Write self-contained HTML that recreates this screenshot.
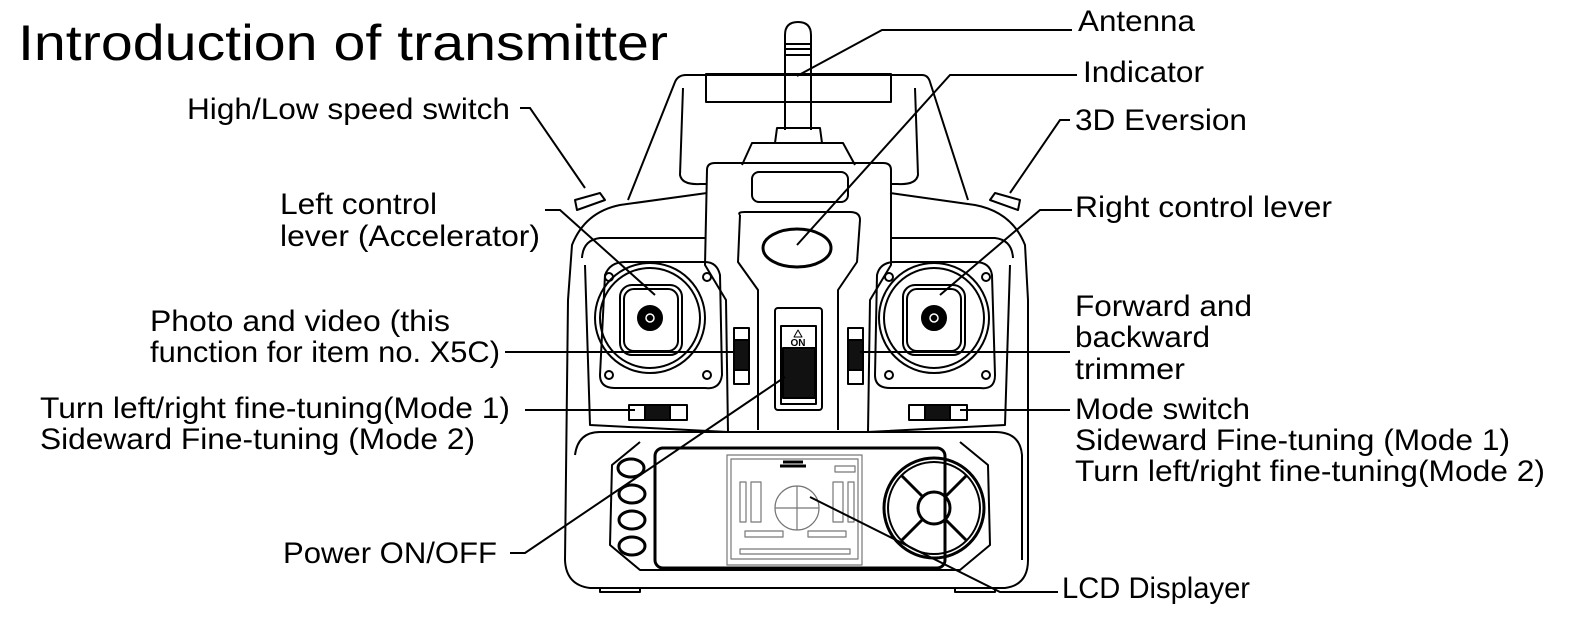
<!DOCTYPE html>
<html><head><meta charset="utf-8"><style>
html,body{margin:0;padding:0;background:#fff;}
svg{display:block;}
text{font-family:"Liberation Sans",Arial,sans-serif;fill:#000;}
</style></head><body>
<svg width="1574" height="625" viewBox="0 0 1574 625" xmlns="http://www.w3.org/2000/svg">
<g font-size="30">
<text x="18" y="60" font-size="50" textLength="650" lengthAdjust="spacingAndGlyphs">Introduction of transmitter</text>
<text x="187" y="119" textLength="323" lengthAdjust="spacingAndGlyphs">High/Low speed switch</text>
<text x="280" y="214" textLength="157" lengthAdjust="spacingAndGlyphs">Left control</text>
<text x="280" y="246" textLength="260" lengthAdjust="spacingAndGlyphs">lever (Accelerator)</text>
<text x="150" y="331" textLength="300" lengthAdjust="spacingAndGlyphs">Photo and video (this</text>
<text x="150" y="362" textLength="350" lengthAdjust="spacingAndGlyphs">function for item no. X5C)</text>
<text x="40" y="418" textLength="470" lengthAdjust="spacingAndGlyphs">Turn left/right fine-tuning(Mode 1)</text>
<text x="40" y="449" textLength="435" lengthAdjust="spacingAndGlyphs">Sideward Fine-tuning (Mode 2)</text>
<text x="283" y="563" textLength="214" lengthAdjust="spacingAndGlyphs">Power ON/OFF</text>
<text x="1078" y="31" textLength="117" lengthAdjust="spacingAndGlyphs">Antenna</text>
<text x="1083" y="82" textLength="121" lengthAdjust="spacingAndGlyphs">Indicator</text>
<text x="1075" y="130" textLength="172" lengthAdjust="spacingAndGlyphs">3D Eversion</text>
<text x="1075" y="217" textLength="257" lengthAdjust="spacingAndGlyphs">Right control lever</text>
<text x="1075" y="316" textLength="177" lengthAdjust="spacingAndGlyphs">Forward and</text>
<text x="1075" y="347" textLength="135" lengthAdjust="spacingAndGlyphs">backward</text>
<text x="1075" y="379" textLength="110" lengthAdjust="spacingAndGlyphs">trimmer</text>
<text x="1075" y="419" textLength="175" lengthAdjust="spacingAndGlyphs">Mode switch</text>
<text x="1075" y="450" textLength="435" lengthAdjust="spacingAndGlyphs">Sideward Fine-tuning (Mode 1)</text>
<text x="1075" y="481" textLength="470" lengthAdjust="spacingAndGlyphs">Turn left/right fine-tuning(Mode 2)</text>
<text x="1062" y="598" textLength="188" lengthAdjust="spacingAndGlyphs">LCD Displayer</text>
</g>

<g fill="none" stroke="#000" stroke-width="2" stroke-linejoin="round">
<!-- handle -->
<path d="M628,200 L675,82 Q678,75 686,75 L922,75 Q928,75 930,82 L968,200"/>
<path d="M683,88 L680,175 Q682,185 700,184 L707,184"/>
<path d="M915,88 L918,175 Q916,185 898,184 L890,184"/>
<rect x="706" y="74" width="185" height="28"/>
<!-- antenna -->
<path d="M785,130 L785,55 L811,55 L811,130"/>
<path d="M785,35 Q785,22 798,22 Q811,22 811,35 L811,55 L785,55 Z"/>
<path d="M786,44 H810 M786,49 H810"/>
<path d="M775,143 L777,128 L820,128 L822,143"/>
<path d="M742,165 L752,143 L843,143 L855,165"/>
<!-- shoulders -->
<path d="M707,193 L620,205 Q585,212 572,245 L568,300 L565,560 Q566,585 590,588 L1005,588 Q1028,585 1028,560 L1028,300 L1025,245 Q1012,212 975,205 L890,193"/>
<path d="M582,258 Q583,240 600,238 L705,238 M1013,258 Q1012,240 995,238 L890,238"/>
<path d="M575,200 L600,193 L605,200 L577,210 Z"/>
<path d="M995,193 L1020,200 L1018,210 L990,200 Z"/>
<!-- center column -->
<path d="M707,170 Q707,163 715,163 L883,163 Q891,163 891,170 L891,265 L870,300 L868,432 L728,432 L726,300 L705,265 Z"/>
<rect x="752" y="172" width="96" height="30" rx="7"/>
<path d="M740,215 Q737,212 745,212 L850,212 Q860,212 860,220 L857,262 L838,290 L838,430 M740,215 L738,262 L758,290 L758,430"/>
<ellipse cx="797" cy="248" rx="34" ry="19" stroke-width="3"/>
<rect x="775" y="308" width="47" height="102" rx="3"/>
<rect x="781" y="326" width="35" height="78"/>
<rect x="783" y="348" width="32" height="50" fill="#111"/>
<text x="798" y="346" font-size="10" text-anchor="middle" font-weight="bold" stroke="none">ON</text>
<path d="M798,330 L794,337 L802,337 Z" stroke-width="1"/>
<!-- left gimbal -->
<path d="M605,275 Q610,262 625,262 L705,262 Q717,262 720,275 L722,375 Q720,390 705,388 L615,388 Q600,388 600,375 Z"/>
<circle cx="650" cy="318" r="55"/>
<circle cx="650" cy="318" r="50"/>
<rect x="620" y="285" width="62" height="70" rx="12"/>
<rect x="624" y="289" width="54" height="62" rx="10"/>
<circle cx="650" cy="318" r="12" fill="#000"/>
<circle cx="650" cy="318" r="4" stroke="#fff" stroke-width="1.5"/>
<circle cx="609" cy="277" r="4"/><circle cx="707" cy="277" r="4"/><circle cx="609" cy="375" r="4"/><circle cx="707" cy="375" r="4"/>
<!-- right gimbal -->
<path d="M877,275 Q880,262 895,262 L975,262 Q990,262 992,275 L995,375 Q995,390 980,388 L890,388 Q875,388 875,375 Z"/>
<circle cx="934" cy="318" r="55"/>
<circle cx="934" cy="318" r="50"/>
<rect x="903" y="285" width="62" height="70" rx="12"/>
<rect x="907" y="289" width="54" height="62" rx="10"/>
<circle cx="934" cy="318" r="12" fill="#000"/>
<circle cx="934" cy="318" r="4" stroke="#fff" stroke-width="1.5"/>
<circle cx="889" cy="277" r="4"/><circle cx="986" cy="277" r="4"/><circle cx="889" cy="375" r="4"/><circle cx="986" cy="375" r="4"/>
<!-- inner side panels -->
<path d="M585,265 L590,425 L728,432 M1010,265 L1005,425 L868,432"/>
<!-- vertical trims -->
<rect x="734" y="328" width="15" height="56"/><rect x="734" y="340" width="15" height="30" fill="#111"/>
<rect x="848" y="328" width="15" height="56"/><rect x="848" y="340" width="15" height="30" fill="#111"/>
<!-- horizontal trims -->
<rect x="629" y="405" width="58" height="15"/><rect x="645" y="405" width="25" height="15" fill="#111"/>
<rect x="909" y="405" width="58" height="15"/><rect x="925" y="405" width="25" height="15" fill="#111"/>
<!-- lower section -->
<path d="M575,455 Q578,432 600,432 L995,432 Q1020,432 1022,455 L1022,560"/>
<path d="M640,442 L612,465 L610,545 L640,570 L960,570 L990,545 L988,465 L960,442"/>
<rect x="655" y="448" width="290" height="120" rx="8" stroke-width="3"/>
<ellipse cx="631" cy="468" rx="13" ry="9" stroke-width="3"/>
<ellipse cx="632" cy="494" rx="13" ry="9" stroke-width="3"/>
<ellipse cx="632" cy="520" rx="13" ry="9" stroke-width="3"/>
<ellipse cx="632" cy="546" rx="13" ry="9" stroke-width="3"/>
<circle cx="934" cy="508" r="50" stroke-width="3"/>
<circle cx="934" cy="508" r="46"/>
<circle cx="934" cy="508" r="16" stroke-width="3"/>
<path d="M902,476 L922,496 M966,476 L946,496 M902,540 L922,520 M966,540 L946,520" stroke-width="3"/>
<path d="M600,588 L600,592 L640,592 L640,588 M955,588 L955,592 L995,592 L995,588"/>
<!-- LCD -->
<g stroke="#777" stroke-width="1.2">
<rect x="727" y="455" width="135" height="110"/>
<rect x="731" y="459" width="127" height="100"/>
<circle cx="797" cy="508" r="22"/>
<path d="M775,508 H819 M797,486 V530"/>
<rect x="740" y="482" width="6" height="40"/><rect x="751" y="482" width="10" height="40"/>
<rect x="833" y="482" width="10" height="40"/><rect x="848" y="482" width="6" height="40"/>
<rect x="745" y="531" width="38" height="6"/><rect x="808" y="531" width="38" height="6"/>
<rect x="740" y="549" width="110" height="5"/>
<rect x="835" y="466" width="20" height="6"/>
</g>
<path d="M783,462 L803,462 M780,466 L806,466" stroke-width="3"/>
</g>

<!-- leader lines -->
<g fill="none" stroke="#000" stroke-width="2">
<path d="M1072,30 L882,30 L797,76"/>
<path d="M1077,75 L950,75 L797,245"/>
<path d="M1070,120 L1060,120 L1010,193"/>
<path d="M1072,210 L1040,210 L940,295"/>
<path d="M1070,352 L860,352"/>
<path d="M505,352 L735,352"/>
<path d="M1070,410 L960,410"/>
<path d="M525,410 L635,410"/>
<path d="M1058,592 L1000,592 L810,497"/>
<path d="M510,553 L525,553 L785,377"/>
<path d="M520,108 L530,108 L585,188"/>
<path d="M545,210 L560,210 L655,295"/>
</g>
</svg>
</body></html>
